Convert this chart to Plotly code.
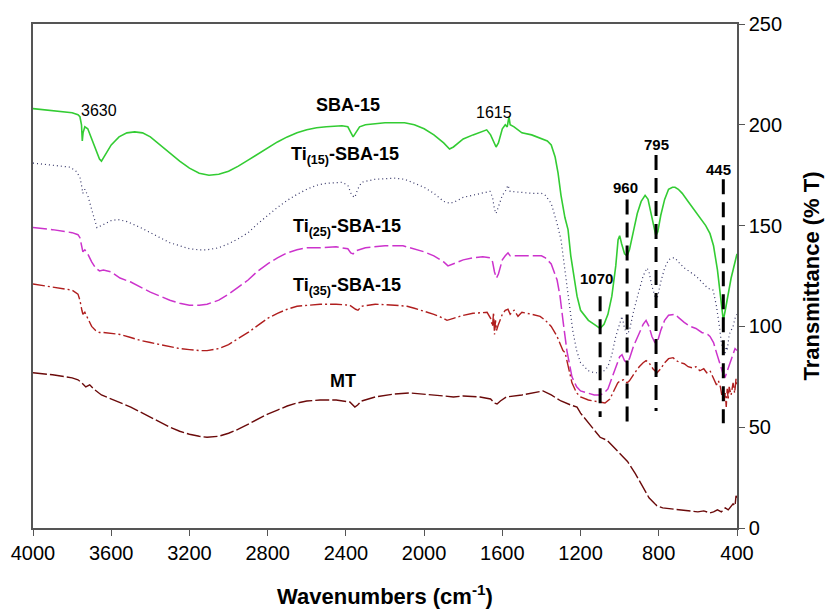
import plotly.graph_objects as go

# ---------------- data ----------------
sba_wn = [4000, 3900, 3800, 3770, 3760, 3752, 3748, 3744, 3735, 3720, 3700, 3680, 3660, 3650, 3630, 3600,
          3560, 3520, 3480, 3440, 3400, 3350, 3300, 3250, 3200, 3150, 3100, 3050, 3000, 2950, 2900, 2850,
          2800, 2750, 2700, 2650, 2600, 2550, 2500, 2420, 2390, 2375, 2363, 2350, 2330, 2300, 2200, 2100,
          2050, 2000, 1950, 1900, 1870, 1850, 1800, 1750, 1700, 1680, 1660, 1640, 1632, 1620, 1600, 1585,
          1575, 1566, 1560, 1540, 1500, 1450, 1400, 1370, 1350, 1330, 1315, 1300, 1280, 1264, 1250, 1230,
          1218, 1200, 1160, 1130, 1100, 1080, 1060, 1040, 1020, 1008, 1000, 990, 975, 962, 950, 930, 910,
          890, 870, 855, 840, 825, 815, 805, 790, 770, 750, 730, 717, 700, 680, 650, 620, 590, 560, 538,
          520, 500, 485, 475, 470, 460, 450, 440, 430, 420, 410, 400]
sba_t = [208, 207, 206, 205, 204, 200, 192, 196, 199, 198, 193, 187, 183, 182, 185, 190,
         194, 196, 196.5, 196, 194, 190, 186, 182, 178.5, 176, 175, 175.5, 177, 179.5, 182.5, 185.5,
         188.5, 191.5, 194, 196, 197.5, 198.5, 199, 199.5, 199, 196, 194, 196, 199, 200, 201, 201,
         200, 198, 195, 191, 188, 189, 193, 195, 197, 197.5, 195, 190, 189, 191, 198, 200,
         199, 204, 200, 199, 196, 195, 193, 192, 190, 184, 176, 165, 154, 148, 135, 122,
         115, 108, 103, 101, 99, 101, 106, 115, 130, 143, 145, 141, 136, 135, 138, 147, 156,
         162, 165, 163, 156, 148, 145, 147, 155, 163, 168, 169, 169, 168, 166, 162, 158, 154, 150, 146,
         140, 128, 115, 106, 103, 108, 114, 118, 124, 128, 132, 136]

ti15_wn = [4000, 3900, 3810, 3780, 3760, 3750, 3745, 3735, 3720, 3700, 3680, 3673, 3650, 3600, 3565, 3520,
           3450, 3400, 3350, 3300, 3250, 3200, 3150, 3110, 3050, 3000, 2950, 2900, 2850, 2800, 2750, 2700,
           2650, 2600, 2550, 2500, 2420, 2390, 2370, 2354, 2340, 2320, 2250, 2150, 2100, 2050, 2000, 1950,
           1900, 1867, 1840, 1800, 1750, 1700, 1663, 1650, 1640, 1632, 1620, 1600, 1585, 1571, 1560, 1500,
           1450, 1400, 1380, 1350, 1320, 1300, 1280, 1260, 1240, 1220, 1200, 1160, 1130, 1100, 1080, 1060,
           1040, 1020, 1000, 988, 975, 962, 950, 930, 900, 880, 860, 850, 835, 820, 814, 805, 790, 770,
           750, 730, 717, 700, 670, 640, 610, 580, 550, 522, 505, 490, 480, 470, 462, 455, 450, 440, 430,
           420, 410, 400]
ti15_t = [181, 180, 179, 177, 174, 169, 166, 168, 165, 158, 151, 149, 150, 152.5, 153, 152,
          149, 146.5, 144, 141.5, 140, 138.5, 138, 138, 139, 141, 143.5, 146.5, 151, 155, 159, 162.5,
          165.5, 168, 170, 171, 171.5, 170, 165, 164, 168, 171.5, 173, 173.5, 173, 171, 169, 166,
          162, 161, 162, 164, 165, 166, 167, 164, 158, 156, 159, 165, 167, 170, 167, 166.5,
          166, 166, 165, 161, 151, 143, 128, 112, 98, 88, 82, 78, 77, 77, 78, 80,
          86, 95, 102, 105, 99, 96, 98, 107, 118, 125, 129, 127, 120, 114, 113, 115, 122, 129,
          133, 134, 134, 132, 129, 127, 125, 122, 119, 118, 110, 100, 92, 88, 86, 90, 88, 96, 98,
          100, 104, 106]

ti25_wn = [4000, 3900, 3800, 3770, 3760, 3750, 3745, 3735, 3720, 3700, 3680, 3660, 3640, 3600, 3555, 3500,
           3450, 3400, 3350, 3300, 3250, 3200, 3150, 3110, 3050, 3000, 2950, 2900, 2850, 2800, 2750, 2700,
           2650, 2600, 2532, 2450, 2390, 2375, 2363, 2350, 2300, 2200, 2108, 2050, 2000, 1950, 1900, 1878,
           1850, 1800, 1750, 1700, 1663, 1650, 1640, 1630, 1620, 1600, 1585, 1571, 1560, 1500, 1450, 1400,
           1380, 1350, 1320, 1305, 1290, 1270, 1244, 1220, 1200, 1160, 1130, 1100, 1080, 1060, 1040, 1020,
           1000, 988, 975, 962, 950, 930, 900, 880, 865, 850, 835, 820, 814, 805, 790, 770, 750, 730, 717,
           700, 670, 640, 610, 580, 550, 538, 520, 505, 490, 480, 470, 460, 450, 440, 430, 420, 410, 400]
ti25_t = [149, 148, 146.5, 145.5, 144, 140, 137, 138, 136, 132, 129, 127.5, 128, 127, 124, 122,
          119.5, 117, 115, 113, 111.5, 110.5, 110.5, 111, 113, 116, 119.5, 123, 127.5, 131, 134, 136.5,
          138, 139, 139, 139.5, 138.5, 136.5, 136, 137.5, 139, 140, 140, 138.5, 137, 135, 132, 130,
          131, 133, 134, 134.5, 134, 132, 127, 124, 126, 133, 135, 136.5, 135, 135, 135, 135,
          134, 131, 123, 115, 103, 88, 75, 70, 68, 67, 66, 66, 67, 69, 74, 80,
          85, 86, 83, 82, 84, 90, 97, 101, 103, 100, 95, 92, 92, 93, 98, 103, 105.5, 106, 106,
          104.5, 102, 100, 99, 97, 96, 95, 92, 87, 82, 78, 76, 75, 78, 81, 84, 86, 89, 88]

ti35_wn = [4000, 3900, 3800, 3770, 3760, 3750, 3745, 3735, 3720, 3700, 3680, 3660, 3640, 3600, 3555, 3500,
           3450, 3400, 3350, 3300, 3250, 3200, 3150, 3110, 3050, 3000, 2950, 2900, 2850, 2800, 2750, 2700,
           2650, 2600, 2532, 2450, 2380, 2350, 2338, 2320, 2250, 2150, 2087, 2050, 2000, 1950, 1900, 1883,
           1850, 1800, 1750, 1700, 1678, 1660, 1650, 1645, 1640, 1635, 1630, 1620, 1600, 1585, 1571, 1560,
           1540, 1520, 1500, 1450, 1407, 1380, 1350, 1320, 1290, 1279, 1260, 1244, 1220, 1200, 1160, 1130,
           1100, 1075, 1050, 1030, 1010, 998, 980, 962, 950, 930, 900, 880, 865, 850, 830, 809, 790, 770,
           750, 727, 710, 690, 670, 650, 630, 610, 590, 570, 555, 538, 520, 505, 495, 485, 478, 470, 465,
           460, 455, 450, 445, 440, 430, 420, 412, 405, 400]
ti35_t = [121, 119.5, 118, 116, 113, 108, 106, 107, 104, 100, 98, 97, 97, 96.5, 96, 94.5,
          93, 92, 91, 90, 89, 88.5, 88, 88, 89, 91, 94, 97, 100.5, 104, 106.5, 108.5,
          110, 110.5, 111, 111, 110.5, 108.5, 108, 110, 111, 110.5, 110, 109, 107.5, 106, 104, 103,
          104, 105.5, 106.5, 107, 107, 104, 100, 107, 96, 103, 98, 101, 106, 108, 108.5, 106,
          108, 105, 107, 106, 105, 103, 100, 95, 88, 87, 79, 72, 67, 65, 63.5, 63,
          62.5, 62, 64, 68, 72, 73, 73.5, 72, 73, 76, 80, 82, 83, 82, 79, 77, 79, 82,
          84, 84.5, 83, 82, 81.5, 80, 79.5, 80, 78, 79, 77, 78, 74, 71, 73, 70, 66, 68, 63,
          67, 60, 69, 64, 70, 66, 72, 67, 74, 70]

mt_wn = [4000, 3900, 3800, 3770, 3750, 3730, 3710, 3690, 3650, 3600, 3555, 3500, 3450, 3400, 3350, 3300,
         3250, 3200, 3150, 3110, 3050, 3000, 2950, 2900, 2850, 2800, 2750, 2700, 2650, 2600, 2532, 2450,
         2380, 2354, 2340, 2320, 2250, 2150, 2072, 2000, 1950, 1900, 1850, 1800, 1714, 1660, 1640, 1627,
         1610, 1580, 1500, 1450, 1392, 1350, 1300, 1250, 1218, 1200, 1150, 1100, 1064, 1040, 998, 960,
         920, 880, 850, 820, 809, 780, 740, 700, 677, 640, 600, 570, 538, 520, 500, 480, 460, 445, 436,
         420, 410, 405, 400]
mt_t = [77, 76, 74.5, 73.5, 72, 70, 71, 69, 66, 64, 62, 60, 57.5, 55, 52.5, 50,
        48, 46.5, 45.5, 45, 45.5, 47, 49, 51.5, 54, 56.5, 58.5, 60.5, 62, 63, 63.5, 63.5,
        62.5, 60, 61, 63, 65, 66.5, 67, 66.5, 66, 65.5, 65, 65.5, 65, 64, 62, 61.5,
        63, 65, 66, 67, 68, 66, 63, 61, 60, 57, 51, 45, 43.5, 41, 37, 33,
        27, 20, 15, 12, 11, 10, 9.5, 9, 9, 8.5, 8, 8.5, 7.5, 8, 9, 8, 10, 9, 10,
        12, 11, 16, 15]

series_names = ["SBA-15", "Ti(15)-SBA-15", "Ti(25)-SBA-15", "Ti(35)-SBA-15", "MT"]
series_labels = ["<b>SBA-15</b>", "<b>Ti<sub>(15)</sub>-SBA-15</b>", "<b>Ti<sub>(25)</sub>-SBA-15</b>",
                 "<b>Ti<sub>(35)</sub>-SBA-15</b>", "<b>MT</b>"]
label_wn = [2389, 2404, 2395, 2395, 2415]
label_t = [210, 185, 149, 120, 73]

# marked bands: label text, where the dashed guide sits, and its extent
band_labels = ["1070", "960", "795", "445"]
band_wn = [1100, 962, 814, 470]
band_top = [115, 163, 185, 173]
band_bottom = [55, 50, 58, 52]
band_label_t = [124, 169, 190, 178]
band_label_wn = [1118, 972, 810, 495]

peak_labels = ["3630", "1615"]
peak_label_wn = [3660, 1645]
peak_label_t = [207, 206]

x_ticks = [4000, 3600, 3200, 2800, 2400, 2000, 1600, 1200, 800, 400]
y_ticks = [0, 50, 100, 150, 200, 250]

# ---------------- figure ----------------
fig = go.Figure()

styles = [
    dict(color="#33CC33", width=1.6, dash="solid"),
    dict(color="#333366", width=1.2, dash="1px,3px"),
    dict(color="#CC33CC", width=1.5, dash="14px,4px"),
    dict(color="#B01E1E", width=1.4, dash="12px,3px,2px,3px"),
    dict(color="#6B0A0A", width=1.4, dash="14px,3px"),
]
xs = [sba_wn, ti15_wn, ti25_wn, ti35_wn, mt_wn]
ys = [sba_t, ti15_t, ti25_t, ti35_t, mt_t]
for name, x, y, st in zip(series_names, xs, ys, styles):
    fig.add_trace(go.Scatter(x=x, y=y, mode="lines", name=name, line=st, showlegend=False))

for wn, top, bot in zip(band_wn, band_top, band_bottom):
    fig.add_trace(go.Scatter(x=[wn, wn], y=[top, bot], mode="lines", showlegend=False,
                             line=dict(color="black", width=3, dash="15px,8px"), hoverinfo="skip"))

for txt, x, y in zip(series_labels, label_wn, label_t):
    fig.add_annotation(x=x, y=y, text=txt, showarrow=False,
                       font=dict(family="Liberation Sans, Arial", size=18, color="black"))

for txt, x, y in zip(band_labels, band_label_wn, band_label_t):
    fig.add_annotation(x=x, y=y, text="<b>" + txt + "</b>", showarrow=False,
                       font=dict(family="Liberation Sans, Arial", size=15, color="black"))

for txt, x, y in zip(peak_labels, peak_label_wn, peak_label_t):
    fig.add_annotation(x=x, y=y, text=txt, showarrow=False,
                       font=dict(family="Liberation Sans, Arial", size=16, color="black"))

axis_common = dict(showgrid=False, zeroline=False, showline=True, linecolor="#555555", linewidth=1.5,
                   mirror=True, ticks="outside", ticklen=6, tickwidth=1.2, tickcolor="#555555",
                   automargin=False,
                   tickfont=dict(family="Liberation Sans, Arial", size=20, color="black"))

fig.update_layout(
    width=833, height=613,
    margin=dict(l=33, r=96, t=24, b=85),
    paper_bgcolor="white", plot_bgcolor="white",
    xaxis=dict(range=[4000, 400], tickvals=x_ticks, ticktext=[str(v) for v in x_ticks],
               title=dict(text="<b>Wavenumbers (cm<sup>-1</sup>)</b>", standoff=26,
                          font=dict(family="Liberation Sans, Arial", size=22, color="black")),
               **axis_common),
    yaxis=dict(range=[0, 250], tickvals=y_ticks, side="right",
               title=dict(text="<b>Transmittance (% T)</b>", standoff=22,
                          font=dict(family="Liberation Sans, Arial", size=22, color="black")),
               **axis_common),
)

fig.write_html("out.html")
